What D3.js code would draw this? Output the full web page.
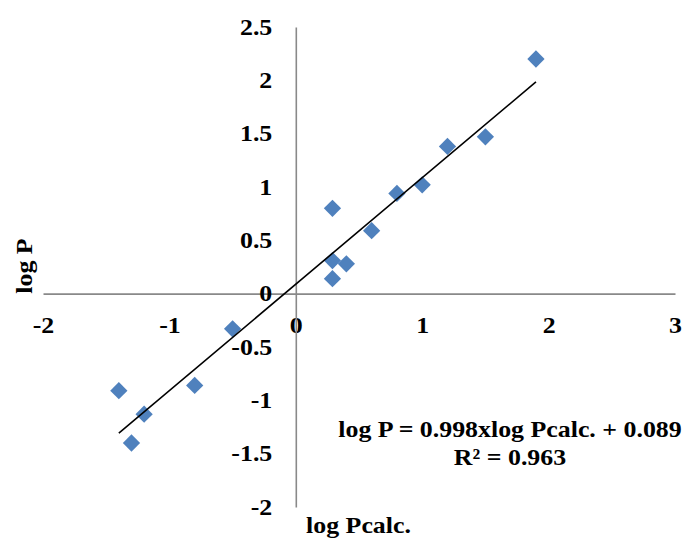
<!DOCTYPE html>
<html>
<head>
<meta charset="utf-8">
<script src="https://cdn.jsdelivr.net/npm/d3@7"></script>
<style>
  html, body { margin: 0; padding: 0; background: #fff; }
  svg text { font-family: "Liberation Serif", "Times New Roman", serif; font-weight: bold; fill: #000; }
</style>
</head>
<body>
<svg id="chart" width="693" height="542"></svg>
<script>
// Measured vs. calculated partition coefficients
const logPcalc = [1.9, 1.5, 1.2, 1.0, 0.8, 0.6, 0.4, 0.29, 0.29, 0.29, -0.5, -0.8, -1.2, -1.4, -1.3];
const logP     = [2.2, 1.47, 1.38, 1.02, 0.94, 0.59, 0.28, 0.31, 0.80, 0.14, -0.33, -0.86, -1.13, -0.91, -1.40];

// Linear fit reported on the chart
const slope = 0.998;
const intercept = 0.089;
const rSquared = 0.963;
const fitRange = [-1.4, 1.9];

const xTicks = [-2, -1, 0, 1, 2, 3];
const xTickLabels = ["-2", "-1", "0", "1", "2", "3"];
const yTicks = [2.5, 2, 1.5, 1, 0.5, 0, -0.5, -1, -1.5, -2];
const yTickLabels = ["2.5", "2", "1.5", "1", "0.5", "0", "-0.5", "-1", "-1.5", "-2"];

const svg = d3.select("#chart");
const x = d3.scaleLinear().domain([-2, 3]).range([43, 675]);
const y = d3.scaleLinear().domain([-2, 2.5]).range([507, 27]);

const axisColor = "#898989";
const fontSize = 22.5;
const stretch = 1.15;   // wide bold lettering

// Widen a text element along its writing direction, keeping its anchor point
function widen(sel) {
  sel.each(function () {
    const t = d3.select(this);
    const tx = +t.attr("x") || 0;
    const ty = +t.attr("y") || 0;
    t.attr("x", 0).attr("y", 0)
      .attr("transform", `translate(${tx},${ty}) scale(${stretch},1)`);
  });
}

// Axes cross at the origin
const xAxis = d3.axisBottom(x)
  .tickValues(xTicks)
  .tickFormat((d, i) => xTickLabels[i])
  .tickSize(0)
  .tickPadding(23);
const gx = svg.append("g")
  .attr("transform", `translate(0,${y(0)})`)
  .call(xAxis);

const yAxis = d3.axisLeft(y)
  .tickValues(yTicks)
  .tickFormat((d, i) => yTickLabels[i])
  .tickSize(0)
  .tickPadding(23.5);
const gy = svg.append("g")
  .attr("transform", `translate(${x(0)},0)`)
  .call(yAxis);

[gx, gy].forEach(g => {
  g.select(".domain").attr("stroke", axisColor).attr("stroke-width", 1.6);
  g.selectAll("text")
    .style("font-size", fontSize + "px")
    .style("font-family", '"Liberation Serif", "Times New Roman", serif')
    .style("font-weight", "bold")
    .attr("fill", "#000")
    .call(widen);
});

// Data points (diamonds)
const diamond = d3.symbol().type(d3.symbolDiamond2).size(190);
svg.append("g")
  .selectAll("path")
  .data(logPcalc.map((v, i) => [v, logP[i]]))
  .join("path")
  .attr("d", diamond)
  .attr("transform", d => `translate(${x(d[0])},${y(d[1])})`)
  .attr("fill", "#4F81BD");

// Trend line
svg.append("line")
  .attr("x1", x(fitRange[0]))
  .attr("y1", y(slope * fitRange[0] + intercept))
  .attr("x2", x(fitRange[1]))
  .attr("y2", y(slope * fitRange[1] + intercept))
  .attr("stroke", "#000")
  .attr("stroke-width", 1.6);

// Axis titles
svg.append("text")
  .attr("transform", `translate(32,266) rotate(-90) scale(${stretch},1)`)
  .attr("text-anchor", "middle")
  .style("font-size", fontSize + "px")
  .text("log P");

svg.append("text")
  .attr("x", 358.5)
  .attr("y", 533)
  .attr("text-anchor", "middle")
  .style("font-size", fontSize + "px")
  .text("log Pcalc.")
  .call(widen);

// Regression equation
svg.append("text")
  .attr("x", 510)
  .attr("y", 437)
  .attr("text-anchor", "middle")
  .style("font-size", fontSize + "px")
  .text(`log P = ${slope}xlog Pcalc. + ${intercept}`)
  .call(widen);
svg.append("text")
  .attr("x", 510)
  .attr("y", 465)
  .attr("text-anchor", "middle")
  .style("font-size", fontSize + "px")
  .text(`R² = ${rSquared}`)
  .call(widen);
</script>
</body>
</html>
